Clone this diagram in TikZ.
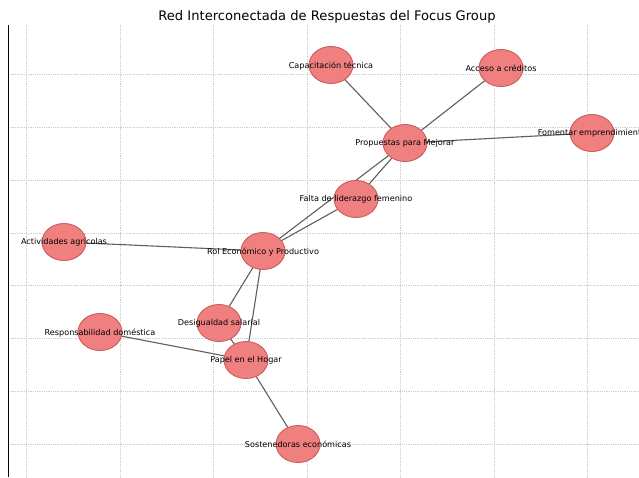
\documentclass[tikz,border=0pt]{standalone}
\usepackage{fontspec}
\setmainfont{DejaVu Sans}
\usetikzlibrary{shapes.geometric}
\definecolor{nodefill}{RGB}{240,128,128}
\definecolor{nodeedge}{RGB}{205,92,92}
\definecolor{edgecol}{RGB}{95,95,95}
\definecolor{gridcol}{RGB}{205,205,205}
\pgfdeclarelayer{gridlayer}
\pgfdeclarelayer{edgelayer}
\pgfsetlayers{gridlayer,edgelayer,main}
\tikzset{
  bubble/.style={ellipse, fill=nodefill, draw=nodeedge, line width=0.9pt,
    minimum width=44pt, minimum height=37pt, inner sep=0pt},
  lbl/.style={font=\fontsize{8.1}{9}\selectfont, inner sep=0pt, yshift=-0.7pt},
  link/.style={draw=edgecol, line width=1.1pt},
  gridline/.style={draw=gridcol, line width=0.7pt, dash pattern=on 1pt off 0.8pt},
}
\begin{document}
\begin{tikzpicture}[x=1pt,y=-1pt]
\useasboundingbox (0,0) rectangle (639,477);
\begin{pgfonlayer}{gridlayer}
\fill[white] (0,0) rectangle (639,477);
\foreach \gx in {26.5,120,213.5,307,400.5,494,587.5}
  \draw[gridline] (\gx,25) -- (\gx,477);
\foreach \gy in {74.5,127.3,180.1,232.9,285.7,338.5,391.3,444.1}
  \draw[gridline] (8,\gy) -- (639,\gy);
\draw[black, line width=1pt] (8,25) -- (8,477);
\end{pgfonlayer}
\node[font=\fontsize{13.1}{15}\selectfont] (title) at (327,17) {Red Interconectada de Respuestas del Focus Group};

\node[bubble, label={[lbl,anchor=center]center:Capacitación técnica}] (cap) at (331,65) {};
\node[bubble, label={[lbl,anchor=center]center:Acceso a créditos}] (acc) at (501,68) {};
\node[bubble, label={[lbl,anchor=center]center:Fomentar emprendimiento}] (fom) at (592,133) {};
\node[bubble, label={[lbl,anchor=center]center:Propuestas para Mejorar}] (pro) at (405,143) {};
\node[bubble, label={[lbl,anchor=center]center:Falta de liderazgo femenino}] (fal) at (356,199) {};
\node[bubble, label={[lbl,anchor=center]center:Actividades agricolas}] (act) at (64,242) {};
\node[bubble, label={[lbl,anchor=center]center:Rol Económico y Productivo}] (rol) at (263,251) {};
\node[bubble, label={[lbl,anchor=center]center:Desigualdad salarial}] (des) at (219,323) {};
\node[bubble, label={[lbl,anchor=center]center:Responsabilidad doméstica}] (res) at (100,332) {};
\node[bubble, label={[lbl,anchor=center]center:Papel en el Hogar}] (pap) at (246,360) {};
\node[bubble, label={[lbl,anchor=center]center:Sostenedoras económicas}] (sos) at (298,444) {};

\begin{pgfonlayer}{edgelayer}
\draw[link] (cap.center) -- (pro.center);
\draw[link] (acc.center) -- (pro.center);
\draw[link] (fom.center) -- (pro.center);
\draw[link] (fal.center) -- (pro.center);
\draw[link] (rol.center) -- (pro.center);
\draw[link] (rol.center) -- (fal.center);
\draw[link] (rol.center) -- (act.center);
\draw[link] (rol.center) -- (des.center);
\draw[link] (rol.center) -- (pap.center);
\draw[link] (des.center) -- (pap.center);
\draw[link] (res.center) -- (pap.center);
\draw[link] (pap.center) -- (sos.center);
\end{pgfonlayer}
\end{tikzpicture}
\end{document}
